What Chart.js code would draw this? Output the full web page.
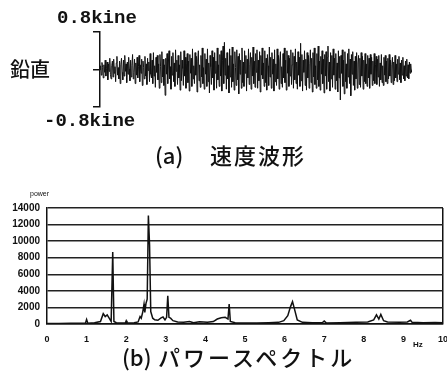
<!DOCTYPE html>
<html>
<head>
<meta charset="utf-8">
<script src="https://cdn.jsdelivr.net/npm/chart.js@4.4.1/dist/chart.umd.min.js"></script>
<style>
  body { margin: 0; background: #fff; width: 447px; height: 385px; position: relative; overflow: hidden; }
  .box { position: absolute; left: 0; width: 447px; }
  .t { position: absolute; color: #111; white-space: nowrap; line-height: 1; }
  .kine { font-family: "Liberation Mono", monospace; font-weight: bold; font-size: 19px; }
  .cap { font-family: "Noto Sans CJK JP", sans-serif; font-size: 22px; font-weight: 500; }
  .sm { font-family: "Liberation Sans", Arial, sans-serif; font-weight: bold; }
</style>
</head>
<body>
<div class="box" style="top:0;height:140px"><canvas id="wave" width="447" height="140"></canvas></div>
<div class="box" style="top:180px;height:175px"><canvas id="spec" width="447" height="175"></canvas></div>

<div class="t kine" style="left:57px;top:9px">0.8kine</div>
<div class="t kine" style="left:44px;top:112px">-0.8kine</div>
<div class="t cap" style="left:10px;top:59px;font-size:20px">鉛直</div>
<div class="t cap" style="left:155px;top:143px">(a)</div>
<div class="t cap" style="left:210px;top:143px;letter-spacing:2px">速度波形</div>
<div class="t sm" style="left:30px;top:190px;font-size:7px;font-weight:normal">power</div>
<div class="t sm" style="left:413px;top:341px;font-size:8px">Hz</div>
<div class="t cap" style="left:122px;top:345px">(b)</div>
<div class="t cap" style="left:158px;top:345px;letter-spacing:3px">パワースペクトル</div>

<script>
// velocity waveform (kine)
var wave = [
  0, 0.08, -0.12, 0.15, 0.04, -0.18, 0.1, -0.06, 0.2, -0.14, 0.02, 0.16, -0.22, 0.12, -0.04, 0.24, -0.1, -0.2, 0.08, 0.18,
  -0.16, 0.22, -0.08, 0.06, -0.26, 0.14, 0.28, -0.12, 0.04, -0.2, 0.18, -0.3, 0.1, 0.24, -0.06, -0.22, 0.2, -0.14, 0.3, -0.04,
  0.12, -0.28, 0.16, -0.1, 0.26, 0.02, -0.24, 0.2, -0.16, 0.08, 0.32, -0.2, -0.06, 0.22, -0.3, 0.14, -0.12, 0.26, -0.18, 0.06,
  0.3, -0.26, 0.1, -0.08, 0.22, -0.34, 0.18, 0.04, -0.2, 0.28, -0.14, 0.12, -0.32, 0.24, -0.02, 0.16, -0.26, 0.34, -0.1, -0.18,
  0.2, -0.3, 0.36, -0.14, 0.08, -0.38, 0.26, -0.06, 0.3, -0.22, 0.12, -0.4, 0.32, 0.06, -0.28, 0.38, -0.16, 0.22, -0.34, 0.1,
  -0.55, 0.24, -0.1, 0.34, -0.3, 0.16, 0.4, -0.2, 0.06, -0.42, 0.28, -0.12, 0.36, -0.26, 0.14, -0.36, 0.42, -0.04, 0.2, -0.32,
  0.3, -0.18, 0.1, -0.44, 0.38, -0.24, 0.2, 0.02, -0.34, 0.4, -0.14, 0.26, -0.4, 0.12, 0.34, -0.28, 0.18, -0.46, 0.32, -0.08,
  0.24, -0.36, 0.44, -0.2, 0.08, -0.3, 0.36, -0.12, 0.28, -0.48, 0.18, 0.4, -0.24, 0.1, -0.38, 0.3, -0.16, 0.46, -0.3, 0.04,
  -0.42, 0.34, -0.1, 0.22, -0.36, 0.44, -0.26, 0.14, -0.5, 0.3, 0.06, -0.32, 0.4, -0.18, 0.26, -0.44, 0.36, -0.08, 0.18, -0.4,
  0.46, -0.22, 0.1, -0.36, 0.32, -0.14, 0.4, -0.46, 0.2, 0.5, -0.3, 0.58, -0.12, 0.24, -0.42, 0.36, -0.2, 0.08, -0.5, 0.44,
  -0.16, 0.3, -0.38, 0.48, -0.26, 0.12, -0.44, 0.38, 0.04, -0.34, 0.42, -0.22, 0.28, -0.52, 0.34, -0.1, 0.2, -0.4, 0.46, -0.28,
  0.16, -0.36, 0.4, -0.08, 0.3, -0.46, 0.22, -0.18, 0.44, -0.32, 0.1, 0.36, -0.42, 0.26, -0.14, 0.48, -0.3, 0.18, -0.38, 0.34,
  -0.06, 0.42, -0.4, 0.2, -0.24, 0.38, -0.48, 0.3, -0.12, 0.46, -0.2, 0.14, -0.36, 0.4, -0.28, 0.24, -0.44, 0.32, 0.08, -0.34,
  0.48, -0.16, 0.26, -0.4, 0.36, -0.1, 0.22, -0.46, 0.42, -0.26, 0.12, -0.34, 0.44, -0.2, 0.3, -0.42, 0.18, 0.38, -0.3, 0.06,
  -0.38, 0.34, -0.18, 0.46, -0.28, 0.2, -0.44, 0.4, -0.08, 0.3, -0.36, 0.24, -0.14, 0.42, -0.32, 0.1, 0.36, -0.4, 0.28, -0.22,
  0.44, -0.3, 0.16, -0.42, 0.38, -0.12, 0.26, -0.36, 0.56, -0.24, 0.32, -0.46, 0.2, -0.06, 0.4, -0.34, 0.22, -0.44, 0.36, -0.18,
  0.3, -0.4, 0.12, 0.42, -0.28, 0.24, -0.48, 0.36, -0.16, 0.46, -0.32, 0.08, -0.4, 0.34, -0.22, 0.5, -0.36, 0.18, -0.44, 0.28,
  -0.1, 0.4, -0.3, 0.22, -0.5, 0.32, -0.14, 0.38, -0.42, 0.26, 0.5, -0.26, 0.16, -0.46, 0.36, -0.2, 0.3, -0.38, 0.44, -0.12,
  0.24, -0.42, 0.34, -0.24, 0.14, -0.48, 0.4, -0.18, 0.28, -0.65, 0.3, -0.08, 0.42, -0.36, 0.2, -0.52, 0.38, -0.26, 0.12, -0.4,
  0.34, -0.16, 0.44, -0.3, 0.22, -0.56, 0.32, -0.1, 0.38, -0.34, 0.18, -0.44, 0.28, -0.2, 0.36, -0.4, 0.14, 0.3, -0.32, 0.24,
  -0.38, 0.36, -0.14, 0.28, -0.42, 0.2, -0.26, 0.34, -0.3, 0.12, -0.36, 0.3, -0.18, 0.24, -0.4, 0.32, -0.1, 0.26, -0.34, 0.18,
  -0.24, 0.34, -0.3, 0.1, 0.28, -0.32, 0.22, -0.16, 0.3, -0.36, 0.14, -0.22, 0.32, -0.28, 0.08, -0.34, 0.26, -0.12, 0.3, -0.26,
  0.18, -0.3, 0.24, -0.2, 0.32, -0.14, 0.2, -0.28, 0.1, 0.26, -0.32, 0.16, -0.24, 0.3, -0.18, 0.12, -0.26, 0.22, -0.1, 0.28,
  -0.22, 0.14, -0.28, 0.2, -0.12, 0.26, -0.2, 0.08, -0.24, 0.18, -0.14, 0.22, -0.18, 0.1, -0.2, 0.16, -0.08, 0.12, -0.06, 0
];

// power spectrum
var specHz = [0, 0.3, 0.6, 0.9, 0.97, 1.0, 1.03, 1.2, 1.35, 1.42, 1.47, 1.52, 1.57, 1.62, 1.66, 1.69, 1.75, 1.9, 1.98, 2.0,
  2.02, 2.2, 2.3, 2.35, 2.38, 2.42, 2.45, 2.47, 2.5, 2.53, 2.56, 2.59, 2.62, 2.67, 2.72, 2.8, 2.88, 2.93, 2.98, 3.02,
  3.05, 3.08, 3.12, 3.18, 3.3, 3.45, 3.6, 3.7, 3.85, 3.95, 4.05, 4.2, 4.3, 4.4, 4.5, 4.57, 4.6, 4.63, 4.75, 5.0,
  5.3, 5.6, 5.85, 5.98, 6.08, 6.15, 6.2, 6.25, 6.32, 6.45, 6.7, 6.95, 7.0, 7.05, 7.4, 7.8, 8.1, 8.25, 8.32, 8.38,
  8.43, 8.5, 8.6, 8.9, 9.1, 9.18, 9.22, 9.5, 9.8, 10];
var specPow = [50, 60, 80, 90, 100, 550, 100, 150, 300, 1250, 900, 1100, 700, 300, 8700, 300, 150, 120, 150, 380,
  130, 150, 250, 900, 700, 1500, 2400, 1400, 2500, 3000, 13100, 9500, 1500, 700, 500, 450, 750, 850, 500, 800,
  3400, 800, 700, 400, 250, 200, 300, 150, 280, 250, 200, 300, 600, 750, 800, 600, 2400, 300, 150, 130,
  120, 150, 200, 400, 1000, 2100, 2700, 1800, 500, 200, 150, 150, 350, 130, 150, 200, 250, 500, 1100, 600,
  1150, 400, 250, 200, 250, 450, 200, 150, 180, 150];

var yTicks = [0, 2000, 4000, 6000, 8000, 10000, 12000, 14000];

new Chart(document.getElementById('wave'), {
  type: 'line',
  data: {
    labels: wave.map(function (v, i) { return i; }),
    datasets: [{ data: wave, borderColor: '#111', borderWidth: 1, pointRadius: 0, tension: 0 }]
  },
  options: {
    responsive: false, animation: false,
    layout: { padding: { left: 93, right: 35, top: 32, bottom: 33 } },
    plugins: { legend: { display: false }, tooltip: { enabled: false } },
    scales: {
      x: { type: 'linear', min: 0, max: wave.length - 1, display: false },
      y: {
        min: -0.8, max: 0.8,
        ticks: { display: false, stepSize: 0.8 },
        grid: { drawOnChartArea: false, tickLength: 7, color: '#111', lineWidth: 1.5 },
        border: { color: '#111', width: 1.5 }
      }
    }
  }
});

new Chart(document.getElementById('spec'), {
  type: 'line',
  data: {
    datasets: [{
      data: specHz.map(function (h, i) { return { x: h, y: specPow[i] }; }),
      borderColor: '#111', borderWidth: 1.5, pointRadius: 0, tension: 0
    }]
  },
  options: {
    responsive: false, animation: false,
    layout: { padding: { left: 0, right: 4, top: 28, bottom: 0 } },
    plugins: { legend: { display: false }, tooltip: { enabled: false } },
    scales: {
      x: {
        type: 'linear', min: 0, max: 10,
        afterFit: function (s) { s.height = 31; s.paddingLeft = 0; s.paddingRight = 0; },
        ticks: { stepSize: 1, padding: 10, color: '#111', font: { family: 'Liberation Sans', weight: 'bold', size: 9 } },
        grid: {
          drawTicks: false, lineWidth: 1.5,
          color: function (c) { return c.tick && c.tick.value === 10 ? '#111' : 'rgba(0,0,0,0)'; }
        },
        border: { color: '#111', width: 1.5 }
      },
      y: {
        min: 0, max: 14000,
        afterFit: function (s) { s.width = 47; s.paddingTop = 0; s.paddingBottom = 0; },
        afterBuildTicks: function (s) { s.ticks = yTicks.map(function (v) { return { value: v }; }); },
        ticks: {
          padding: 7, color: '#111', font: { family: 'Liberation Sans', weight: 'bold', size: 10 },
          callback: function (v) { return String(v); }
        },
        grid: { drawTicks: false, color: '#222', lineWidth: 1.5 },
        border: { color: '#111', width: 1.5 }
      }
    }
  }
});
</script>
</body>
</html>
